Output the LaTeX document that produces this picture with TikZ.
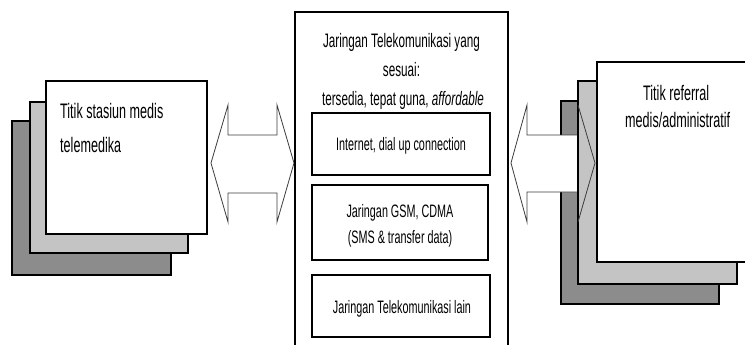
\documentclass[tikz,border=0pt]{standalone}
\usepackage{fontspec}
\setmainfont{Liberation Sans}[FakeStretch=0.6]
\definecolor{dgray}{RGB}{140,140,140}
\definecolor{lgray}{RGB}{196,196,196}
\definecolor{arrowline}{RGB}{60,60,60}
\begin{document}
\begin{tikzpicture}[x=1pt,y=-1pt,
  sheet/.style={draw=black,line width=1.3pt,anchor=north west,inner sep=0pt,outer sep=0pt},
  inbox/.style={draw=black,line width=1.5pt,anchor=north west,inner sep=0pt,outer sep=0pt,fill=white},
  bigtxt/.style={font=\fontsize{21}{25}\selectfont,inner sep=0pt},
  midtxt/.style={font=\fontsize{19.5}{24}\selectfont,inner sep=0pt,anchor=base},
  smalltxt/.style={font=\fontsize{18}{22}\selectfont,inner sep=0pt,anchor=base},
  dblarrow/.style={draw=arrowline,line width=0.8pt,line join=miter}]
\useasboundingbox (0,0) rectangle (745,345);
\clip (0,0) rectangle (745,345);
\fill[white] (0,0) rectangle (745,345);
% left stack
\node[sheet,fill=dgray,minimum width=159pt,minimum height=154pt] (l3) at (12,121) {};
\node[sheet,fill=lgray,minimum width=158pt,minimum height=151pt] (l2) at (30,102) {};
\node[sheet,fill=white,minimum width=161pt,minimum height=153pt] (l1) at (46,81) {};
\node[bigtxt,anchor=base west] (lt1) at (60,118) {Titik stasiun medis};
\node[bigtxt,anchor=base west] (lt2) at (60,152) {telemedika};
% left double arrow
\draw[dblarrow,fill=white] (211,163) -- (228,105) -- (228,135) -- (277,135) -- (277,105) -- (294,163) -- (277,222) -- (277,193) -- (228,193) -- (228,222) -- cycle;
% centre box
\node[sheet,line width=1.2pt,fill=white,minimum width=213pt,minimum height=345pt] (c) at (295,12) {};
\node[midtxt] (ct1) at (401.5,48) {Jaringan Telekomunikasi yang};
\node[midtxt] (ct2) at (401.5,77) {sesuai:};
\node[midtxt] (ct3) at (403,106) {tersedia, tepat guna, \textit{affordable}};
\node[inbox,minimum width=178pt,minimum height=62pt] (b1) at (312,113) {};
\node[smalltxt] (b1t) at (401,150) {Internet, dial up connection};
\node[inbox,minimum width=176pt,minimum height=75pt] (b2) at (312,185) {};
\node[smalltxt] (b2t) at (400,217) {Jaringan GSM, CDMA};
\node[smalltxt] (b2u) at (400,243) {(SMS \& transfer data)};
\node[inbox,minimum width=178pt,minimum height=62pt] (b3) at (312,275) {};
\node[smalltxt] (b3t) at (402,313) {Jaringan Telekomunikasi lain};
% right stack
\node[sheet,fill=dgray,minimum width=158pt,minimum height=203pt] (r3) at (561,101) {};
\draw[dblarrow,fill=white] (511,163) -- (527,105) -- (527,135) -- (578,135) -- (578,105) -- (595,163) -- (578,222) -- (578,192) -- (527,192) -- (527,222) -- cycle;
\node[sheet,fill=lgray,minimum width=159pt,minimum height=203pt] (r2) at (578,81) {};
\draw[dblarrow] (578,105) -- (595,163) -- (578,222);
\node[sheet,fill=white,minimum width=160pt,minimum height=200pt] (r1) at (597,62) {};
\node[bigtxt,anchor=base west] (rt1) at (643,101) {Titik referral};
\node[bigtxt,anchor=base west] (rt2) at (625,128) {medis/administratif};
\end{tikzpicture}
\end{document}
